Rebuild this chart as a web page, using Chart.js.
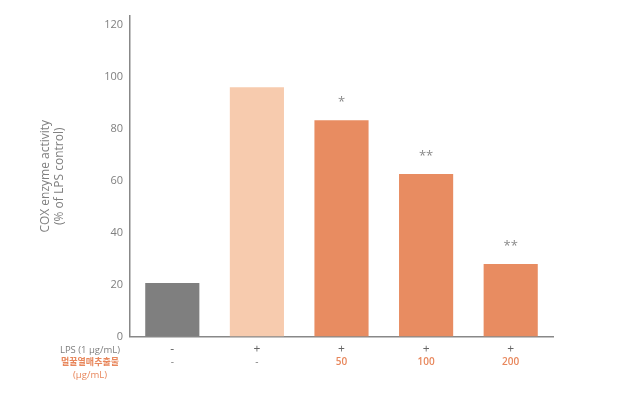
<!DOCTYPE html>
<html>
<head>
<meta charset="utf-8">
<script src="https://cdn.jsdelivr.net/npm/chart.js@4/dist/chart.umd.min.js"></script>
<style>
  html, body { margin: 0; padding: 0; background: #fff; }
  #wrap { width: 629px; height: 395px; }
</style>
</head>
<body>
<div id="wrap"><canvas id="chart" width="629" height="395"></canvas></div>
<script>
const lpsRow = ['-', '+', '+', '+', '+'];
const doseRow = ['-', '-', '50', '100', '200'];
const values = [20.6, 96, 83.3, 62.6, 27.9];
const stars = ['', '', '*', '**', '**'];
const barColors = ['#7f7f7f', '#f7cbae', '#e88c61', '#e88c61', '#e88c61'];
const yTicks = [0, 20, 40, 60, 80, 100, 120];
const rowTitles = ['LPS (1 \u03bcg/mL)', '\uba40\uafc0\uc5f4\ub9e4\ucd94\ucd9c\ubb3c', '(\u03bcg/mL)'];

const GRAY = '#7f7f7f';
const ORANGE = '#e8875c';
const FONT = "'Open Sans', 'Noto Sans', sans-serif";

// stars above bars + row titles on the left of the category labels
const extras = {
  id: 'extras',
  afterDatasetsDraw(chart) {
    const { ctx, scales } = chart;
    const meta = chart.getDatasetMeta(0);
    ctx.save();
    ctx.fillStyle = '#8a8a8a';
    ctx.font = '13px ' + FONT;
    ctx.textAlign = 'center';
    ctx.textBaseline = 'middle';
    meta.data.forEach((bar, i) => {
      if (stars[i]) ctx.fillText(stars[i], bar.x, bar.y - 18);
    });

    const xRow1 = scales.x.top + 14;
    ctx.font = '9.5px ' + FONT;
    ctx.fillStyle = GRAY;
    ctx.fillText(rowTitles[0], 90, xRow1);
    ctx.font = "bold 9px 'Noto Sans CJK KR', sans-serif";
    ctx.fillStyle = ORANGE;
    ctx.fillText(rowTitles[1], 90, xRow1 + 11.5);
    ctx.font = '9.5px ' + FONT;
    ctx.fillText(rowTitles[2], 90, xRow1 + 25);
    ctx.restore();
  }
};

new Chart(document.getElementById('chart'), {
  type: 'bar',
  data: {
    labels: lpsRow,
    datasets: [{
      data: values,
      backgroundColor: barColors,
      barPercentage: 0.64,
      categoryPercentage: 1
    }]
  },
  options: {
    responsive: false,
    animation: false,
    layout: { padding: { left: 36, right: 76, top: 16, bottom: 0 } },
    plugins: { legend: { display: false }, tooltip: { enabled: false } },
    scales: {
      x: {
        grid: { display: false, drawTicks: false },
        border: { color: '#888', width: 1.5 },
        ticks: { color: '#666', font: { family: FONT, size: 12 }, padding: 6, maxRotation: 0 },
        afterFit: s => { s.height = 15; }
      },
      x2: {
        type: 'category',
        position: 'bottom',
        labels: doseRow,
        offset: true,
        grid: { display: false, drawTicks: false },
        border: { display: false },
        ticks: {
          color: c => (c.index < 2 ? GRAY : ORANGE),
          font: c => ({ family: FONT, size: 10, weight: c.index < 2 ? 'normal' : '600' }),
          padding: 5,
          maxRotation: 0
        },
        afterFit: s => { s.height = 43.5; }
      },
      y: {
        min: 0,
        max: 123.5,
        grid: { display: false, drawTicks: false },
        border: { color: '#888', width: 1.5 },
        ticks: { color: GRAY, font: { family: FONT, size: 11 }, padding: 7 },
        afterBuildTicks: s => { s.ticks = yTicks.map(v => ({ value: v })); },
        title: {
          display: true,
          text: ['COX enzyme activity', '(% of LPS control)'],
          color: GRAY,
          font: { family: FONT, size: 12 },
          padding: { top: 2, bottom: 0 }
        },
        afterFit: s => { s.width = 94; }
      }
    }
  },
  plugins: [extras]
});
</script>
</body>
</html>
